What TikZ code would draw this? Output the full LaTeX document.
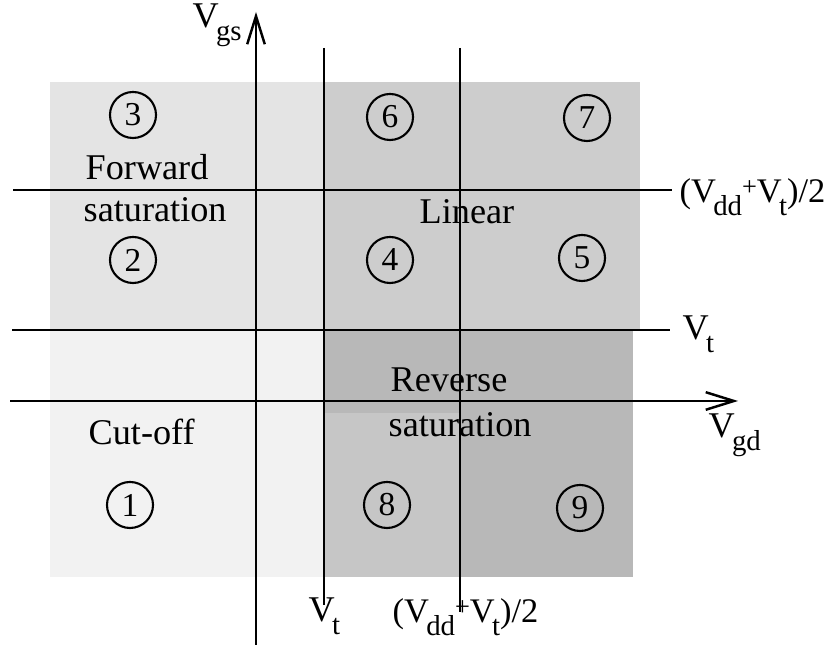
\documentclass[tikz,border=0pt]{standalone}
\usepackage{fontspec}
\setmainfont{Liberation Serif}
\usepackage{tikz}
\usetikzlibrary{arrows.meta, positioning}
\definecolor{fwdgray}{RGB}{228,228,228}
\definecolor{cutgray}{RGB}{242,242,242}
\definecolor{lingray}{RGB}{205,205,205}
\definecolor{revgray}{RGB}{184,184,184}
\definecolor{patchgray}{RGB}{198,198,198}
\newcommand{\lowtxt}[1]{\kern-0.8pt\raisebox{-3.6pt}{\fontsize{8.2}{9}\selectfont #1}}
\newcommand{\hightxt}[1]{\raisebox{2.2pt}{\fontsize{7.5}{8}\selectfont #1}}
\tikzset{
  bound/.style={line width=0.6pt, color=black},
  axis/.style={-{Straight Barb[length=8pt, width=5pt]}, line width=0.7pt, color=black},
  num/.style={circle, draw, line width=0.6pt, minimum size=0.46cm,
    inner sep=0pt, font=\fontsize{9.5}{10}\selectfont},
  lbl/.style={anchor=base west, inner sep=0pt, font=\fontsize{10.3}{12}\selectfont},
  midlbl/.style={lbl, font=\fontsize{9.8}{12}\selectfont}
}

\begin{document}
\begin{tikzpicture}[x=0.01cm, y=-0.01cm]
  \useasboundingbox (0,0) rectangle (824,665);

  % shaded regions
  \fill[fwdgray] (50,82) rectangle (324,330);
  \fill[cutgray] (50,330) rectangle (324,577);
  \fill[lingray] (324,82) rectangle (640,330);
  \fill[revgray] (324,330) rectangle (633,577);
  \fill[patchgray] (324,413) rectangle (459,577);

  % boundary lines
  \coordinate (vt_top) at (324,48);
  \coordinate (vt_bot) at (324,605);
  \coordinate (vm_top) at (460,48);
  \coordinate (vm_bot) at (460,612);
  \coordinate (hm_l) at (13,190);
  \coordinate (hm_r) at (672,190);
  \coordinate (ht_l) at (12,330);
  \coordinate (ht_r) at (670,330);
  \draw[bound] (vt_top) -- (vt_bot);
  \draw[bound] (vm_top) -- (vm_bot);
  \draw[bound] (hm_l) -- (hm_r);
  \draw[bound] (ht_l) -- (ht_r);

  % axes
  \coordinate (gs_bot) at (256,645);
  \coordinate (gs_top) at (256,12);
  \coordinate (gd_l) at (10,401);
  \coordinate (gd_r) at (738,401);
  \draw[axis] (gs_bot) -- (gs_top);
  \draw[axis] (gd_l) -- (gd_r);

  % axis and line labels
  \node[lbl] (vgs_lbl) at (192,28) {V\lowtxt{gs}};
  \node[lbl] (vgd_lbl) at (708,438) {V\lowtxt{gd}};
  \node[lbl] (vt_rlbl) at (682,340) {V\lowtxt{t}};
  \node[midlbl] (vm_rlbl) at (679,203) {(V\lowtxt{dd}\hightxt{+}V\lowtxt{t})/2};
  \node[lbl] (vt_blbl) at (308,622) {V\lowtxt{t}};
  \node[midlbl] (vm_blbl) at (392,623) {(V\lowtxt{dd}\hightxt{+}V\lowtxt{t})/2};

  % region names
  \node[lbl] (fwd1) at (85,180) {Forward};
  \node[lbl] (fwd2) at (83,222) {saturation};
  \node[lbl] (lin) at (419,224) {Linear};
  \node[lbl] (rev1) at (390,392) {Reverse};
  \node[lbl] (rev2) at (388,437) {saturation};
  \node[lbl] (cut) at (88,445) {Cut-off};

  % numbered regions
  \node[num] (n3) at (133,115) {3};
  \node[num] (n6) at (390,117) {6};
  \node[num] (n7) at (587,118) {7};
  \node[num] (n2) at (133,260) {2};
  \node[num] (n4) at (390,260) {4};
  \node[num] (n5) at (582,258) {5};
  \node[num] (n1) at (130,505) {1};
  \node[num] (n8) at (387,505) {8};
  \node[num] (n9) at (580,508) {9};
\end{tikzpicture}
\end{document}
